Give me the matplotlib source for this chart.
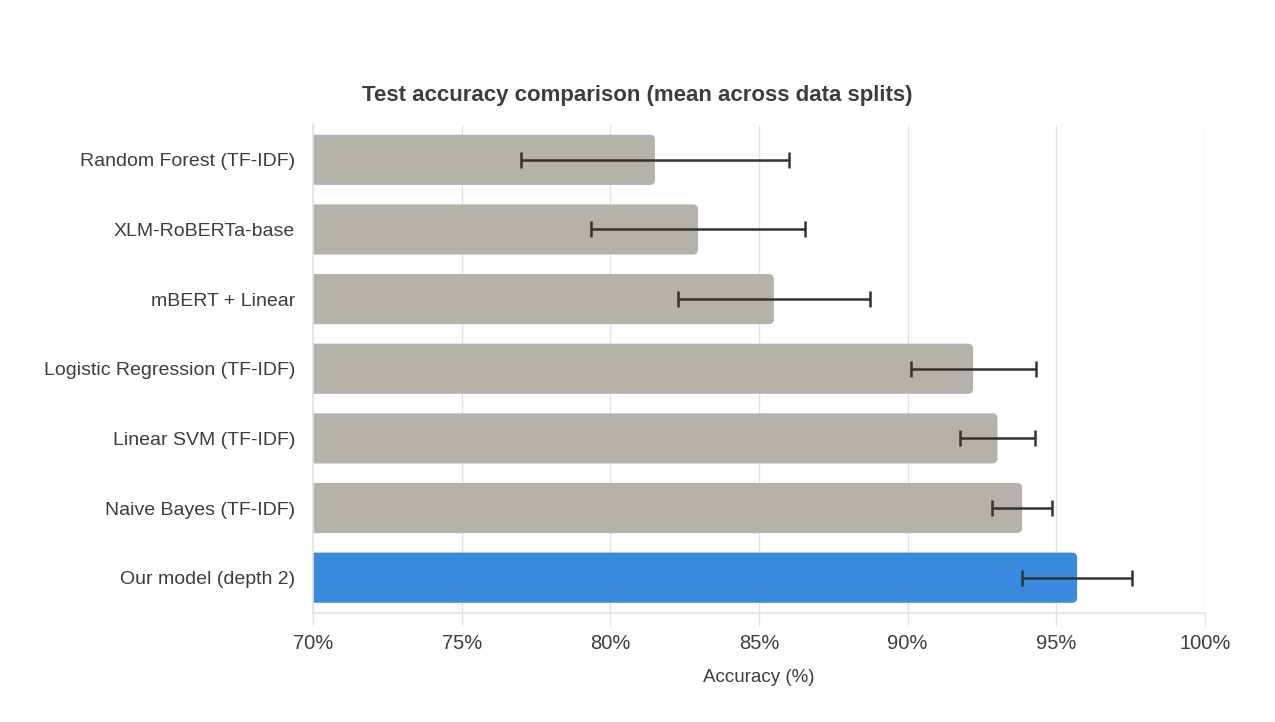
import numpy as np
import matplotlib.pyplot as plt
from matplotlib.patches import FancyBboxPatch
from matplotlib.ticker import FuncFormatter

# ------------------------------ Data ------------------------------

MODELS = [
    "Random Forest (TF-IDF)",
    "XLM-RoBERTa-base",
    "mBERT + Linear",
    "Logistic Regression (TF-IDF)",
    "Linear SVM (TF-IDF)",
    "Naive Bayes (TF-IDF)",
    "Our model (depth 2)",
]
ACC_MEAN = [81.5, 82.95, 85.5, 92.2, 93.02, 93.85, 95.7]
ACC_ERR = [4.5, 3.6, 3.23, 2.1, 1.25, 1.02, 1.85]
HIGHLIGHT = "Our model (depth 2)"

XTICKS = [70, 75, 80, 85, 90, 95, 100]

GRAY = "#b5b2aa"
BLUE = "#3a8ade"
TEXT = "#3d3d3d"
GRID = "#e3e3e3"

plt.rcParams.update({
    "font.family": ["Liberation Sans", "DejaVu Sans"],
    "text.color": TEXT,
    "axes.labelcolor": TEXT,
    "xtick.color": GRID,
    "xtick.labelcolor": TEXT,
    "ytick.labelcolor": TEXT,
})

# ------------------------------ Plot ------------------------------

fig = plt.figure(figsize=(12.75, 7.22), dpi=100)
ax = fig.add_axes([313 / 1275, 1 - 612.5 / 722, 892 / 1275, 487.5 / 722])

ypos = np.arange(len(MODELS))
xmin, xmax = 70, 100
bar_h = 0.72

ax.set_xlim(xmin, xmax)
ax.set_ylim(len(MODELS) - 0.5, -0.5)

for y, name, m in zip(ypos, MODELS, ACC_MEAN):
    color = BLUE if name == HIGHLIGHT else GRAY
    patch = FancyBboxPatch(
        (xmin - 1, y - bar_h / 2), m - (xmin - 1), bar_h,
        boxstyle="round,pad=0,rounding_size=0.17",
        mutation_aspect=0.42,
        facecolor=color, edgecolor="none", zorder=2, clip_on=True,
    )
    ax.add_patch(patch)

ax.errorbar(ACC_MEAN, ypos, xerr=ACC_ERR, fmt="none", ecolor="#333333",
            elinewidth=1.8, capsize=5.8, capthick=1.8, zorder=3)

ax.set_yticks(ypos)
ax.set_yticklabels(MODELS, fontsize=14)
ax.tick_params(axis="y", length=0, pad=13)

ax.set_xticks(XTICKS)
ax.xaxis.set_major_formatter(FuncFormatter(lambda v, _: f"{v:.0f}%"))
ax.tick_params(axis="x", length=9.5, width=1, pad=6, labelsize=14.5)

ax.grid(axis="x", color=GRID, linewidth=1, zorder=0)
ax.set_axisbelow(True)
for side in ("top", "right"):
    ax.spines[side].set_visible(False)
for side in ("left", "bottom"):
    ax.spines[side].set_color(GRID)
    ax.spines[side].set_linewidth(1.2)

fig.text(0.5, 1 - 95 / 722, "Test accuracy comparison (mean across data splits)",
         ha="center", va="center", fontsize=16, fontweight="bold", color=TEXT)
fig.text(759 / 1275, 1 - 678 / 722, "Accuracy (%)", ha="center", va="center",
         fontsize=13.5, color=TEXT)

fig.savefig("out.png", dpi=100, facecolor="white")
